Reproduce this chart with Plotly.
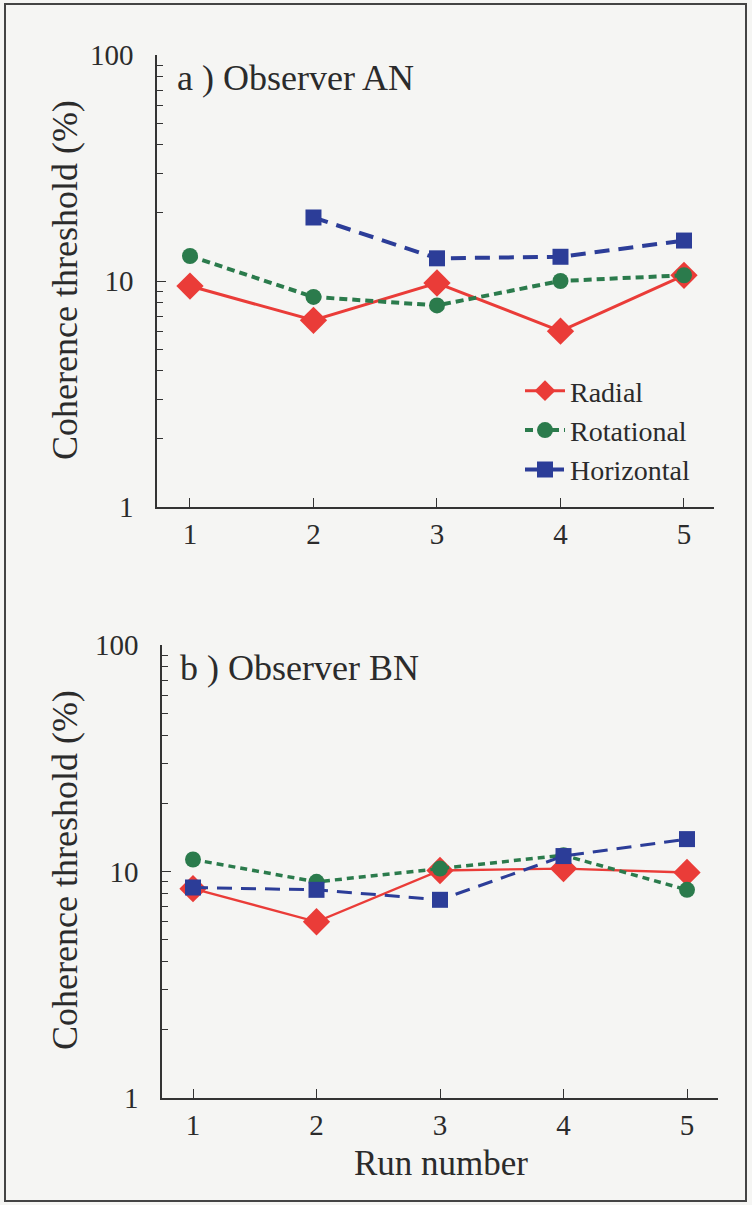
import plotly.graph_objects as go

runs = [1, 2, 3, 4, 5]

# Observer AN
an_radial = [9.5, 6.7, 9.8, 6.0, 10.6]
an_rotational = [12.9, 8.5, 7.8, 10.0, 10.6]
an_horizontal_runs = [2, 3, 4, 5]
an_horizontal = [19.1, 12.6, 12.8, 15.1]

# Observer BN
bn_radial = [8.4, 6.0, 10.1, 10.3, 9.9]
bn_rotational = [11.3, 9.0, 10.3, 11.8, 8.3]
bn_horizontal = [8.5, 8.3, 7.5, 11.7, 13.9]

series_names = ["Radial", "Rotational", "Horizontal"]
y_tickvals = [1, 10, 100]
y_ticktext = ["1", "10", "100"]
x_ticktext = ["1", "2", "3", "4", "5"]
panel_titles = ["a ) Observer AN", "b ) Observer BN"]
y_title = "Coherence threshold (%)"
x_title = "Run number"

W, H = 752, 1205
def px(x):
    return x / W
def py(y):
    return 1 - y / H

RED = "#ea3c38"
GREEN = "#2b7b4c"
BLUE = "#2c3d98"
FONT = "Liberation Serif, Times New Roman, serif"
TXT = "#2b2b2b"

fig = go.Figure()

def add_series(x, y, name, color, symbol, size, dash, width, xa, ya, show):
    fig.add_trace(go.Scatter(
        x=x, y=y, name=name, mode="lines+markers",
        line=dict(color=color, width=width, dash=dash),
        marker=dict(symbol=symbol, size=size, color=color,
                    line=dict(width=0)),
        xaxis=xa, yaxis=ya, showlegend=show))

add_series(runs, an_radial, series_names[0], RED, "diamond", 21, "solid", 3, "x", "y", True)
add_series(runs, an_rotational, series_names[1], GREEN, "circle", 16, "8px,5px", 4, "x", "y", True)
add_series(an_horizontal_runs, an_horizontal, series_names[2], BLUE, "square", 16, "15px,9px", 4, "x", "y", True)

add_series(runs, bn_radial, series_names[0], RED, "diamond", 21, "solid", 2.3, "x2", "y2", False)
add_series(runs, bn_rotational, series_names[1], GREEN, "circle", 16, "7px,5px", 3.5, "x2", "y2", False)
add_series(runs, bn_horizontal, series_names[2], BLUE, "square", 16, "15px,9px", 3, "x2", "y2", False)

minor_vals = [2, 3, 4, 5, 6, 7, 8, 9, 20, 30, 40, 50, 60, 70, 80, 90]

def yaxis(dom, anchor):
    return dict(
        type="log", range=[0, 2], domain=dom, anchor=anchor, automargin=False,
        tickmode="array", tickvals=y_tickvals, ticktext=y_ticktext,
        ticks="inside", ticklen=9, tickwidth=1.3, tickcolor="#333",
        showline=True, linecolor="#333", linewidth=1.5,
        showgrid=False, zeroline=False,
        tickfont=dict(family=FONT, size=29, color=TXT),
        ticklabelstandoff=16,
        minor=dict(tickmode="array", tickvals=minor_vals, ticks="inside",
                   ticklen=6, tickwidth=1.2, tickcolor="#333", showgrid=False),
    )

def xaxis(dom, rng, anchor):
    return dict(
        range=rng, domain=dom, anchor=anchor, automargin=False,
        tickmode="array", tickvals=runs, ticktext=x_ticktext,
        ticks="inside", ticklen=9, tickwidth=1.3, tickcolor="#333",
        showline=True, linecolor="#333", linewidth=1.5,
        showgrid=False, zeroline=False,
        tickfont=dict(family=FONT, size=29, color=TXT),
        ticklabelstandoff=0,
    )

fig.update_layout(
    width=W, height=H,
    margin=dict(l=0, r=0, t=0, b=0, autoexpand=False),
    paper_bgcolor="#f5f5f3", plot_bgcolor="rgba(0,0,0,0)",
    xaxis=xaxis([px(157), px(714)], [0.733, 5.243], "y"),
    yaxis=yaxis([py(507), py(55)], "x"),
    xaxis2=xaxis([px(162), px(718)], [0.749, 5.251], "y2"),
    yaxis2=yaxis([py(1098), py(645)], "x2"),
    showlegend=True,
    legend=dict(
        x=px(520), y=py(366), xanchor="left", yanchor="top",
        bgcolor="rgba(0,0,0,0)", borderwidth=0,
        font=dict(family=FONT, size=28, color=TXT),
        itemwidth=40, tracegroupgap=0,
    ),
)

annotations = [
    dict(text=panel_titles[0], x=px(175), y=py(78), xanchor="left", yanchor="middle"),
    dict(text=panel_titles[1], x=px(178), y=py(668), xanchor="left", yanchor="middle"),
]
for a in annotations:
    fig.add_annotation(xref="paper", yref="paper", showarrow=False,
                       font=dict(family=FONT, size=36, color=TXT), **a)

for yc in (280, 870):
    fig.add_annotation(text=y_title, xref="paper", yref="paper", x=px(65), y=py(yc),
                       xanchor="center", yanchor="middle", textangle=-90, showarrow=False,
                       font=dict(family=FONT, size=36, color=TXT))

fig.add_annotation(text=x_title, xref="paper", yref="paper", x=px(441), y=py(1163),
                   xanchor="center", yanchor="middle", showarrow=False,
                   font=dict(family=FONT, size=35, color=TXT))

fig.add_shape(type="rect", xref="paper", yref="paper",
              x0=px(5), x1=px(746), y0=py(1201), y1=py(4),
              line=dict(color="#444", width=2), fillcolor="rgba(0,0,0,0)")

fig.write_html("out.html")
